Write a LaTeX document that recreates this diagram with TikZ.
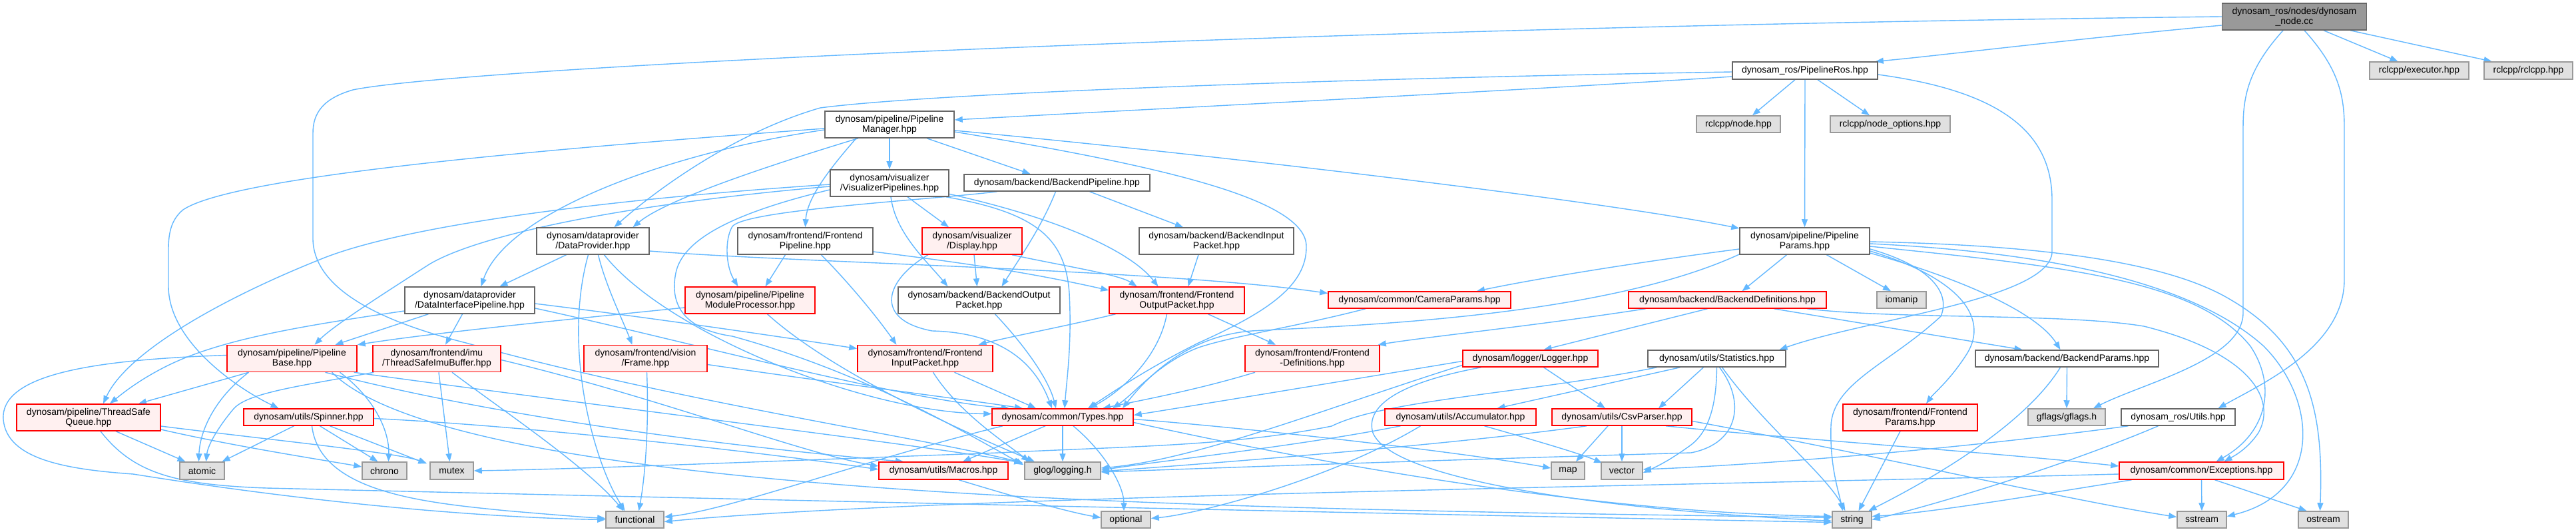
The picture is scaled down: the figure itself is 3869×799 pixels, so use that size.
\documentclass[tikz,border=0pt]{standalone}
\usepackage{fontspec}
\setmainfont{Liberation Sans}
\usetikzlibrary{arrows.meta}
\definecolor{eblue}{HTML}{63B8FF}
\definecolor{redfill}{HTML}{FFF0F0}
\definecolor{grayfill}{HTML}{E0E0E0}
\definecolor{rootfill}{HTML}{999999}
\definecolor{wborder}{HTML}{666666}
\definecolor{gborder}{HTML}{999999}
\pgfdeclarelayer{bg}
\pgfsetlayers{bg,main}
\tikzset{
 box/.style={draw, line width=1.5pt, align=center, inner sep=2pt, font=\fontsize{14}{15}\selectfont, text=black},
 wbox/.style={box, draw=wborder, fill=white},
 rbox/.style={box, draw=red, fill=redfill},
 gbox/.style={box, draw=gborder, fill=grayfill},
 rootbox/.style={box, draw=wborder, fill=rootfill},
 e/.style={draw=eblue, line width=1.4pt, -{Triangle[length=12pt,width=9pt]}},
}
\begin{document}
\begin{tikzpicture}[x=1pt,y=1pt]
\useasboundingbox (0,0) rectangle (3869,-799);
% ---------------- nodes ----------------
\node[rootbox, minimum width=217pt, minimum height=40pt] (root) at (3446,-25) {dynosam\_ros/nodes/dynosam\\\_node.cc};
\node[gbox, minimum width=149pt, minimum height=26pt] (exec) at (3633.5,-106) {rclcpp/executor.hpp};
\node[gbox, minimum width=133pt, minimum height=26pt] (rclcpp) at (3797.5,-106) {rclcpp/rclcpp.hpp};
\node[wbox, minimum width=218pt, minimum height=26pt] (pros) at (2711,-106) {dynosam\_ros/PipelineRos.hpp};
\node[gbox, minimum width=126pt, minimum height=25pt] (nodehpp) at (2611,-186.5) {rclcpp/node.hpp};
\node[gbox, minimum width=180pt, minimum height=25pt] (nodeopt) at (2839,-186.5) {rclcpp/node\_options.hpp};
\node[wbox, minimum width=195pt, minimum height=40pt] (pparams) at (2710.5,-362) {dynosam/pipeline/Pipeline\\Params.hpp};
\node[wbox, minimum width=194pt, minimum height=40pt] (pm) at (1336,-187) {dynosam/pipeline/Pipeline\\Manager.hpp};
\node[wbox, minimum width=178pt, minimum height=40pt] (vp) at (1336,-275) {dynosam/visualizer\\/VisualizerPipelines.hpp};
\node[wbox, minimum width=169pt, minimum height=40pt] (dprov) at (890.5,-362) {dynosam/dataprovider\\/DataProvider.hpp};
\node[wbox, minimum width=203pt, minimum height=40pt] (fpipe) at (1209.5,-362) {dynosam/frontend/Frontend\\Pipeline.hpp};
\node[wbox, minimum width=279pt, minimum height=25pt] (bpipe) at (1587.5,-274.5) {dynosam/backend/BackendPipeline.hpp};
\node[rbox, minimum width=150pt, minimum height=40pt] (disp) at (1460,-362) {dynosam/visualizer\\/Display.hpp};
\node[wbox, minimum width=232pt, minimum height=40pt] (bip) at (1827,-362) {dynosam/backend/BackendInput\\Packet.hpp};
\node[rbox, minimum width=195pt, minimum height=40pt] (pbase) at (438.5,-538.5) {dynosam/pipeline/Pipeline\\Base.hpp};
\node[rbox, minimum width=192pt, minimum height=40pt] (tsib) at (656,-538.5) {dynosam/frontend/imu\\/ThreadSafeImuBuffer.hpp};
\node[rbox, minimum width=216pt, minimum height=40pt] (tsq) at (133,-627) {dynosam/pipeline/ThreadSafe\\Queue.hpp};
\node[rbox, minimum width=195pt, minimum height=25pt] (spin) at (463.5,-626.5) {dynosam/utils/Spinner.hpp};
\node[gbox, minimum width=67pt, minimum height=26pt] (atomic) at (303.5,-707) {atomic};
\node[gbox, minimum width=67pt, minimum height=26pt] (chrono) at (577.5,-707) {chrono};
\node[wbox, minimum width=195pt, minimum height=40pt] (dip) at (705.5,-451) {dynosam/dataprovider\\/DataInterfacePipeline.hpp};
\node[gbox, minimum width=65pt, minimum height=26pt] (mutex) at (678.5,-707) {mutex};
\node[gbox, minimum width=87pt, minimum height=25pt] (functional) at (953.5,-780.5) {functional};
\node[rbox, minimum width=195pt, minimum height=40pt] (pmp) at (1126.5,-451) {dynosam/pipeline/Pipeline\\ModuleProcessor.hpp};
\node[rbox, minimum width=185pt, minimum height=40pt] (frame) at (969.5,-538.5) {dynosam/frontend/vision\\/Frame.hpp};
\node[rbox, minimum width=203pt, minimum height=40pt] (fip) at (1389.5,-538.5) {dynosam/frontend/Frontend\\InputPacket.hpp};
\node[wbox, minimum width=243pt, minimum height=40pt] (bop) at (1470.5,-451) {dynosam/backend/BackendOutput\\Packet.hpp};
\node[rbox, minimum width=203pt, minimum height=40pt] (fop) at (1767.5,-451) {dynosam/frontend/Frontend\\OutputPacket.hpp};
\node[rbox, minimum width=212pt, minimum height=25pt] (types) at (1596,-626.5) {dynosam/common/Types.hpp};
\node[rbox, minimum width=194pt, minimum height=26pt] (macros) at (1417,-707) {dynosam/utils/Macros.hpp};
\node[gbox, minimum width=114pt, minimum height=26pt] (glog) at (1596,-707) {glog/logging.h};
\node[gbox, minimum width=74pt, minimum height=25pt] (optional) at (1691,-780.5) {optional};
\node[rbox, minimum width=202pt, minimum height=40pt] (fdef) at (1971,-538.5) {dynosam/frontend/Frontend\\-Definitions.hpp};
\node[rbox, minimum width=274pt, minimum height=25pt] (camp) at (2132,-450.5) {dynosam/common/CameraParams.hpp};
\node[rbox, minimum width=297pt, minimum height=25pt] (bdef) at (2594.5,-450.5) {dynosam/backend/BackendDefinitions.hpp};
\node[rbox, minimum width=203pt, minimum height=25pt] (logger) at (2298.5,-538.5) {dynosam/logger/Logger.hpp};
\node[wbox, minimum width=207pt, minimum height=25pt] (stats) at (2578.5,-538.5) {dynosam/utils/Statistics.hpp};
\node[rbox, minimum width=227pt, minimum height=25pt] (accum) at (2193.5,-626.5) {dynosam/utils/Accumulator.hpp};
\node[rbox, minimum width=210pt, minimum height=25pt] (csv) at (2436,-626.5) {dynosam/utils/CsvParser.hpp};
\node[gbox, minimum width=50pt, minimum height=26pt] (map) at (2355,-707) {map};
\node[gbox, minimum width=62pt, minimum height=26pt] (vector) at (2436,-707) {vector};
\node[gbox, minimum width=74pt, minimum height=25pt] (iomanip) at (2856,-450.5) {iomanip};
\node[wbox, minimum width=275pt, minimum height=25pt] (bparams) at (3104.5,-538.5) {dynosam/backend/BackendParams.hpp};
\node[rbox, minimum width=202pt, minimum height=40pt] (fparams) at (2869,-627) {dynosam/frontend/Frontend\\Params.hpp};
\node[gbox, minimum width=116pt, minimum height=25pt] (gflags) at (3104,-626.5) {gflags/gflags.h};
\node[wbox, minimum width=171pt, minimum height=25pt] (rosutils) at (3271.5,-626.5) {dynosam\_ros/Utils.hpp};
\node[rbox, minimum width=247pt, minimum height=26pt] (exc) at (3306.5,-707) {dynosam/common/Exceptions.hpp};
\node[gbox, minimum width=59pt, minimum height=25pt] (string) at (2781.5,-780.5) {string};
\node[gbox, minimum width=74pt, minimum height=25pt] (sstream) at (3307,-780.5) {sstream};
\node[gbox, minimum width=75pt, minimum height=25pt] (ostream) at (3489.5,-780.5) {ostream};
% ---------------- edges ----------------
\begin{pgfonlayer}{bg}
\fill[white] (0,0) rectangle (3869,-799);
% root
\draw[e] ([yshift=-13pt]root.west) .. controls (3100,-60) and (2900,-85) .. ([xshift=-4pt]pros.north east);
\draw[e] ([xshift=44pt]root.south) -- ([xshift=-32pt]exec.north);
\draw[e] ([xshift=84pt]root.south) -- ([xshift=-55pt]rclcpp.north);
\draw[e] ([xshift=-17pt]root.south) .. controls (3380,-100) and (3369,-140) .. (3369,-190) -- (3369,-470) .. controls (3369,-540) and (3220,-575) .. ([xshift=40pt]gflags.north);
\draw[e] ([xshift=15pt]root.south) .. controls (3510,-100) and (3521,-140) .. (3521,-190) -- (3521,-420) .. controls (3521,-520) and (3400,-575) .. ([xshift=60pt]rosutils.north);
\draw[e] (root.west) .. controls (2000,-40) and (700,-100) .. (530,-135) .. controls (485,-148) and (470,-170) .. (470,-200) -- (470,-360) .. controls (472,-430) and (560,-480) .. (700,-515) .. controls (1000,-600) and (1400,-660) .. ([xshift=-2pt,yshift=-2pt]glog.north west);
% PipelineRos
\draw[e] ([xshift=-15pt]pros.south) -- ([xshift=21pt]nodehpp.north);
\draw[e] ([xshift=19pt]pros.south) -- ([xshift=-31pt]nodeopt.north);
\draw[e] (pros.south) -- (pparams.north);
\draw[e] ([yshift=-6pt]pros.east) .. controls (2990,-135) and (3082,-190) .. (3082,-300) -- (3082,-380) .. controls (3075,-450) and (2800,-480) .. ([xshift=94pt]stats.north);
\draw[e] ([yshift=-9pt]pros.west) .. controls (2300,-135) and (1800,-160) .. ([yshift=7pt]pm.east);
\draw[e] ([yshift=-2pt]pros.west) .. controls (2000,-118) and (1400,-140) .. (1232,-162) .. controls (1100,-200) and (980,-290) .. ([xshift=32pt]dprov.north);
% PipelineManager
\draw[e] (pm.south) -- (vp.north);
\draw[e] ([xshift=56pt]pm.south) -- ([xshift=-40pt]bpipe.north);
\draw[e] ([yshift=-9pt]pm.east) .. controls (1800,-230) and (2400,-300) .. ([yshift=19pt]pparams.west);
\draw[e] ([yshift=-11pt]pm.east) .. controls (1750,-250) and (1962,-300) .. (1962,-370) .. controls (1963,-430) and (1900,-470) .. (1800,-515) .. controls (1720,-555) and (1670,-590) .. ([xshift=38pt]types.north);
\draw[e] ([yshift=-8pt]pm.west) .. controls (1000,-230) and (760,-320) .. ([xshift=17pt]dip.north);
\draw[e] ([xshift=-47pt]pm.south) .. controls (1150,-250) and (1000,-300) .. ([xshift=60pt]dprov.north);
\draw[e] ([xshift=-50pt]pm.south) .. controls (1240,-260) and (1212,-300) .. (fpipe.north);
\draw[e] ([yshift=-6pt]pm.west) .. controls (800,-225) and (350,-265) .. (275,-315) .. controls (257,-330) and (253,-350) .. (253,-375) -- (253,-430) .. controls (253,-510) and (350,-580) .. ([xshift=-45pt]spin.north);
% VisualizerPipelines
\draw[e] ([xshift=27pt]vp.south) -- ([xshift=-35pt]disp.north);
\draw[e] ([yshift=-2pt]vp.west) .. controls (900,-300) and (600,-340) .. (480,-390) .. controls (330,-450) and (190,-530) .. ([xshift=22pt]tsq.north);
\draw[e] ([yshift=-5pt]vp.west) .. controls (900,-310) and (700,-360) .. (640,-400) .. controls (570,-445) and (500,-490) .. ([xshift=34pt]pbase.north);
\draw[e] ([xshift=2pt]vp.south) .. controls (1345,-350) and (1390,-390) .. ([xshift=-47pt]bop.north);
\draw[e] ([xshift=85pt]vp.south) .. controls (1560,-320) and (1600,-360) .. (1606,-440) .. controls (1610,-520) and (1602,-570) .. ([xshift=3pt]types.north);
\draw[e] ([xshift=-3pt,yshift=5pt]vp.south east) .. controls (1600,-330) and (1700,-380) .. ([xshift=-28pt]fop.north);
\draw[e] ([yshift=-10pt]vp.west) .. controls (1100,-320) and (1025,-360) .. (1015,-410) .. controls (1005,-460) and (1030,-495) .. (1100,-505) .. controls (1300,-560) and (1450,-650) .. ([xshift=-1pt,yshift=-5pt]glog.north west);
% BackendPipeline
\draw[e] ([xshift=49pt]bpipe.south) -- ([xshift=-50pt]bip.north);
\draw[e] ([xshift=-2pt]bpipe.south) .. controls (1565,-340) and (1530,-390) .. ([xshift=34pt]bop.north);
\draw[e] ([xshift=-90pt]bpipe.south) .. controls (1400,-300) and (1120,-315) .. (1100,-340) .. controls (1088,-360) and (1090,-400) .. ([xshift=-18pt]pmp.north);
% DataProvider
\draw[e] ([xshift=-40pt]dprov.south) -- ([xshift=45pt]dip.north);
\draw[e] ([xshift=-7pt]dprov.south) .. controls (845,-520) and (890,-690) .. ([xshift=-15pt]functional.north);
\draw[e] ([xshift=8pt]dprov.south) .. controls (910,-430) and (935,-480) .. ([xshift=-20pt]frame.north);
\draw[e] ([xshift=17pt]dprov.south) .. controls (1000,-500) and (1300,-620) .. ([yshift=5pt]types.west);
\draw[e] ([yshift=-15pt]dprov.east) .. controls (1200,-395) and (1750,-405) .. ([yshift=10pt]camp.west);
% DataInterfacePipeline
\draw[e] ([xshift=-62pt]dip.south) -- ([xshift=65pt]pbase.north);
\draw[e] ([yshift=-16pt]dip.west) .. controls (450,-490) and (330,-510) .. (250,-550) .. controls (210,-570) and (185,-590) .. ([xshift=32pt]tsq.north);
\draw[e] ([xshift=-11pt]dip.south) -- ([xshift=13pt]tsib.north);
\draw[e] ([yshift=-5pt]dip.east) .. controls (1000,-480) and (1200,-510) .. ([yshift=15pt]fip.west);
\draw[e] ([yshift=-12pt]dip.east) .. controls (1000,-505) and (1350,-600) .. ([xshift=-80pt]types.north);
% PipelineBase
\draw[e] ([xshift=-65pt]pbase.south) -- ([xshift=75pt]tsq.north);
\draw[e] ([xshift=-65pt]pbase.south) .. controls (320,-600) and (300,-650) .. ([xshift=-5pt]atomic.north);
\draw[e] ([xshift=72pt]pbase.south) .. controls (565,-600) and (585,-650) .. ([xshift=6pt]chrono.north);
\draw[e] ([yshift=5pt]pbase.west) .. controls (150,-540) and (0,-560) .. (5,-630) .. controls (10,-690) and (100,-705) .. (200,-712) .. controls (500,-760) and (750,-778) .. (functional.west);
\draw[e] ([xshift=-5pt]pbase.south east) .. controls (900,-610) and (1400,-670) .. ([xshift=-3pt,yshift=-2pt]glog.north west);
\draw[e] ([xshift=50pt]pbase.south) .. controls (800,-640) and (1200,-680) .. ([xshift=-60pt]macros.north);
\draw[e] ([xshift=60pt]pbase.south) .. controls (700,-760) and (2000,-765) .. ([yshift=3pt]string.west);
% ThreadSafeQueue
\draw[e] ([xshift=41pt]tsq.south) -- ([xshift=-25pt]atomic.north);
\draw[e] ([yshift=-18pt]tsq.east) .. controls (350,-670) and (480,-690) .. ([yshift=6pt]chrono.west);
\draw[e] ([yshift=-13pt]tsq.east) .. controls (400,-660) and (600,-680) .. ([xshift=-4pt,yshift=-3pt]mutex.north west);
\draw[e] ([xshift=18pt]tsq.south) .. controls (200,-710) and (260,-728) .. (400,-733) .. controls (900,-745) and (2000,-770) .. ([yshift=-4pt]string.west);
% Spinner
\draw[e] ([xshift=-22pt]spin.south) -- ([xshift=30pt]atomic.north);
\draw[e] ([xshift=17pt]spin.south) -- ([xshift=-10pt]chrono.north);
\draw[e] ([xshift=32pt]spin.south) -- ([xshift=-5pt,yshift=-3pt]mutex.north west);
\draw[e] ([xshift=5pt]spin.south) .. controls (480,-740) and (640,-755) .. (760,-767) .. controls (830,-773) and (880,-777) .. ([yshift=2pt]functional.west);
\draw[e] ([yshift=-2pt]spin.east) .. controls (800,-640) and (1150,-680) .. ([yshift=2pt]macros.west);
% ThreadSafeImuBuffer
\draw[e] ([xshift=3pt]tsib.south) -- ([xshift=-3pt]mutex.north);
\draw[e] ([xshift=23pt]tsib.south) .. controls (760,-620) and (880,-700) .. ([xshift=-17pt]functional.north);
\draw[e] ([xshift=2pt]tsib.south west) .. controls (450,-580) and (370,-590) .. (350,-615) .. controls (325,-645) and (312,-670) .. ([xshift=6pt]atomic.north);
\draw[e] ([yshift=-2pt]tsib.east) .. controls (1000,-600) and (1200,-680) .. ([yshift=7pt]macros.west);
% Frame
\draw[e] ([xshift=2pt]frame.south) .. controls (975,-650) and (968,-720) .. ([xshift=6pt]functional.north);
\draw[e] ([yshift=-9pt]frame.east) .. controls (1250,-575) and (1450,-600) .. ([xshift=-60pt]types.north);
% PipelineModuleProcessor
\draw[e] ([yshift=-11pt]pmp.west) .. controls (850,-480) and (650,-500) .. (pbase.north east);
\draw[e] ([xshift=26pt]pmp.south) .. controls (1250,-560) and (1450,-650) .. ([xshift=-42pt]glog.north);
% FrontendPipeline
\draw[e] ([xshift=-30pt]fpipe.south) -- ([xshift=23pt]pmp.north);
\draw[e] ([xshift=24pt]fpipe.south) .. controls (1280,-430) and (1320,-480) .. ([xshift=-43pt]fip.north);
\draw[e] ([yshift=-16pt]fpipe.east) .. controls (1450,-395) and (1550,-410) .. ([yshift=15pt]fop.west);
% Display
\draw[e] ([xshift=3pt]disp.south) -- ([xshift=-3pt]bop.north);
\draw[e] ([xshift=60pt]disp.south) .. controls (1600,-400) and (1680,-412) .. ([xshift=-60pt]fop.north);
\draw[e] ([xshift=-66pt]disp.south) .. controls (1330,-420) and (1310,-480) .. (1400,-497) .. controls (1520,-500) and (1560,-560) .. ([xshift=-16pt]types.north);
% BackendInputPacket
\draw[e] ([xshift=-27pt]bip.south) -- ([xshift=17pt]fop.north);
% FrontendInputPacket
\draw[e] ([xshift=44pt]fip.south) -- ([xshift=-40pt]types.north);
\draw[e] ([xshift=12pt]fip.south) .. controls (1440,-620) and (1510,-665) .. ([xshift=-50pt]glog.north);
% BackendOutputPacket
\draw[e] ([xshift=24pt]bop.south) .. controls (1540,-520) and (1575,-570) .. ([xshift=-10pt]types.north);
% FrontendOutputPacket
\draw[e] ([xshift=-92pt]fop.south) .. controls (1600,-490) and (1520,-505) .. ([xshift=80pt]fip.north);
\draw[e] ([xshift=-15pt]fop.south) .. controls (1740,-540) and (1680,-590) .. ([xshift=40pt]types.north);
\draw[e] ([xshift=47pt]fop.south) -- ([xshift=-55pt]fdef.north);
% FrontendDefinitions
\draw[e] ([xshift=-86pt]fdef.south) .. controls (1800,-585) and (1720,-600) .. ([xshift=60pt]types.north);
% CameraParams
\draw[e] ([xshift=-81pt]camp.south) .. controls (1950,-490) and (1850,-505) .. (1800,-522) .. controls (1740,-545) and (1705,-590) .. ([xshift=75pt]types.north);
% BackendDefinitions
\draw[e] ([xshift=-123pt]bdef.south) .. controls (2300,-490) and (2150,-505) .. ([xshift=-3pt]fdef.north east);
\draw[e] ([xshift=-30pt]bdef.south) -- ([xshift=20pt]logger.north);
\draw[e] ([xshift=70pt]bdef.south) -- ([xshift=-67pt]bparams.north);
\draw[e] ([xshift=120pt]bdef.south) .. controls (2850,-480) and (3100,-470) .. (3220,-490) .. controls (3380,-530) and (3420,-600) .. (3392,-650) .. controls (3375,-675) and (3355,-685) .. ([xshift=34pt]exc.north);
% Logger
\draw[e] ([xshift=20pt]logger.south) -- ([xshift=-25pt]csv.north);
\draw[e] ([yshift=-4pt]logger.west) .. controls (2000,-575) and (1850,-600) .. ([yshift=3pt]types.east);
\draw[e] ([xshift=-74pt]logger.south) .. controls (2100,-575) and (2050,-610) .. (2062,-650) .. controls (2090,-720) and (2400,-765) .. ([yshift=-2pt]string.west);
\draw[e] ([yshift=-10pt]logger.west) .. controls (2000,-610) and (1800,-690) .. ([yshift=4pt]glog.east);
% Statistics
\draw[e] ([xshift=-20pt]stats.south) -- ([xshift=55pt]csv.north);
\draw[e] ([xshift=-55pt]stats.south) -- ([xshift=55pt]accum.north);
\draw[e] ([xshift=8pt]stats.south) .. controls (2650,-640) and (2740,-710) .. ([xshift=-10pt]string.north);
\draw[e] (stats.south) .. controls (2578,-600) and (2570,-645) .. (2540,-668) .. controls (2510,-690) and (2490,-700) .. ([yshift=-3pt]vector.east);
\draw[e] ([xshift=4pt]stats.south) .. controls (2620,-600) and (2615,-665) .. (2540,-680) .. controls (2200,-690) and (1900,-700) .. ([yshift=-2pt]glog.east);
\draw[e] ([xshift=-90pt]stats.south) .. controls (2300,-590) and (2080,-600) .. (2000,-640) .. controls (1850,-670) and (1700,-670) .. (1500,-680) .. controls (1100,-695) and (850,-705) .. (mutex.east);
% Accumulator
\draw[e] ([xshift=36pt]accum.south) .. controls (2300,-660) and (2370,-680) .. ([xshift=2pt,yshift=-2pt]vector.north west);
\draw[e] ([xshift=-90pt]accum.south) .. controls (1950,-670) and (1760,-690) .. ([yshift=1pt]glog.east);
\draw[e] ([xshift=-60pt]accum.south) .. controls (2000,-720) and (1800,-772) .. ([yshift=2pt]optional.east);
% CsvParser
\draw[e] ([xshift=-21pt]csv.south) -- ([xshift=12pt]map.north);
\draw[e] (csv.south) -- (vector.north);
\draw[e] ([xshift=-53pt]csv.south) .. controls (2200,-665) and (1900,-690) .. ([yshift=-1pt]glog.east);
\draw[e] ([xshift=66pt]csv.south) .. controls (2700,-660) and (3000,-680) .. ([yshift=7pt]exc.west);
\draw[e] ([yshift=-6pt]csv.east) .. controls (2800,-680) and (3100,-750) .. ([yshift=4pt]sstream.west);
% Types
\draw[e] ([xshift=-26pt]types.south) -- ([xshift=29pt]macros.north);
\draw[e] (types.south) -- (glog.north);
\draw[e] ([xshift=16pt]types.south) .. controls (1660,-680) and (1688,-730) .. ([xshift=-3pt]optional.north);
\draw[e] ([yshift=-3pt]types.east) .. controls (1900,-645) and (2200,-680) .. ([yshift=4pt]map.west);
\draw[e] ([yshift=-8pt]types.east) .. controls (2000,-700) and (2400,-770) .. ([yshift=5pt]string.west);
\draw[e] ([xshift=-90pt]types.south) .. controls (1300,-690) and (1100,-765) .. ([yshift=4pt]functional.east);
% Macros
\draw[e] ([xshift=23pt]macros.south) .. controls (1520,-745) and (1600,-768) .. ([yshift=3pt]optional.west);
% ros Utils
\draw[e] ([xshift=-75pt]rosutils.south) .. controls (2900,-680) and (2600,-700) .. ([yshift=2pt]vector.east);
\draw[e] ([xshift=-30pt]rosutils.south) .. controls (3100,-700) and (2900,-760) .. (string.east);
% Exceptions
\draw[e] (exc.south) -- (sstream.north);
\draw[e] ([xshift=20pt]exc.south) -- ([xshift=-25pt]ostream.north);
\draw[e] ([xshift=-105pt]exc.south) .. controls (3050,-745) and (2900,-770) .. ([yshift=5pt]string.east);
\draw[e] ([yshift=-5pt]exc.west) .. controls (2500,-730) and (1400,-745) .. ([yshift=-3pt]functional.east);
% BackendParams / FrontendParams
\draw[e] (bparams.south) -- (gflags.north);
\draw[e] ([xshift=-10pt]bparams.south) .. controls (3040,-640) and (2900,-720) .. ([xshift=25pt]string.north);
\draw[e] ([xshift=-15pt]fparams.south) -- ([xshift=10pt]string.north);
% PipelineParams
\draw[e] ([xshift=-27pt]pparams.south) -- ([xshift=22pt]bdef.north);
\draw[e] ([xshift=33pt]pparams.south) -- ([xshift=-16pt]iomanip.north);
\draw[e] ([yshift=-12pt]pparams.east) .. controls (2900,-400) and (2930,-440) .. (2915,-475) .. controls (2840,-545) and (2752,-575) .. (2750,-640) .. controls (2748,-700) and (2762,-740) .. ([xshift=-14pt]string.north);
\draw[e] ([yshift=-15pt]pparams.east) .. controls (2950,-420) and (2985,-480) .. (2955,-530) .. controls (2930,-570) and (2905,-590) .. ([xshift=24pt]fparams.north);
\draw[e] ([yshift=-18pt]pparams.east) .. controls (2950,-420) and (3060,-470) .. ([xshift=-10pt]bparams.north);
\draw[e] ([yshift=-8pt]pparams.east) .. controls (3100,-400) and (3300,-420) .. (3380,-520) .. controls (3420,-580) and (3405,-650) .. ([xshift=22pt]exc.north);
\draw[e] ([yshift=-1pt]pparams.east) .. controls (3050,-368) and (3250,-390) .. (3350,-450) .. controls (3470,-520) and (3490,-620) .. ([xshift=-5pt]ostream.north);
\draw[e] ([yshift=-4pt]pparams.east) .. controls (3100,-380) and (3300,-430) .. (3400,-520) .. controls (3480,-600) and (3490,-740) .. ([yshift=5pt]sstream.east);
\draw[e] ([yshift=-12pt]pparams.west) .. controls (2450,-395) and (2300,-420) .. ([xshift=86pt]camp.north);
\draw[e] ([yshift=-20pt]pparams.west) .. controls (2400,-480) and (2000,-490) .. (1880,-497) .. controls (1780,-505) and (1720,-570) .. ([xshift=90pt]types.north);
\end{pgfonlayer}
\end{tikzpicture}
\end{document}
